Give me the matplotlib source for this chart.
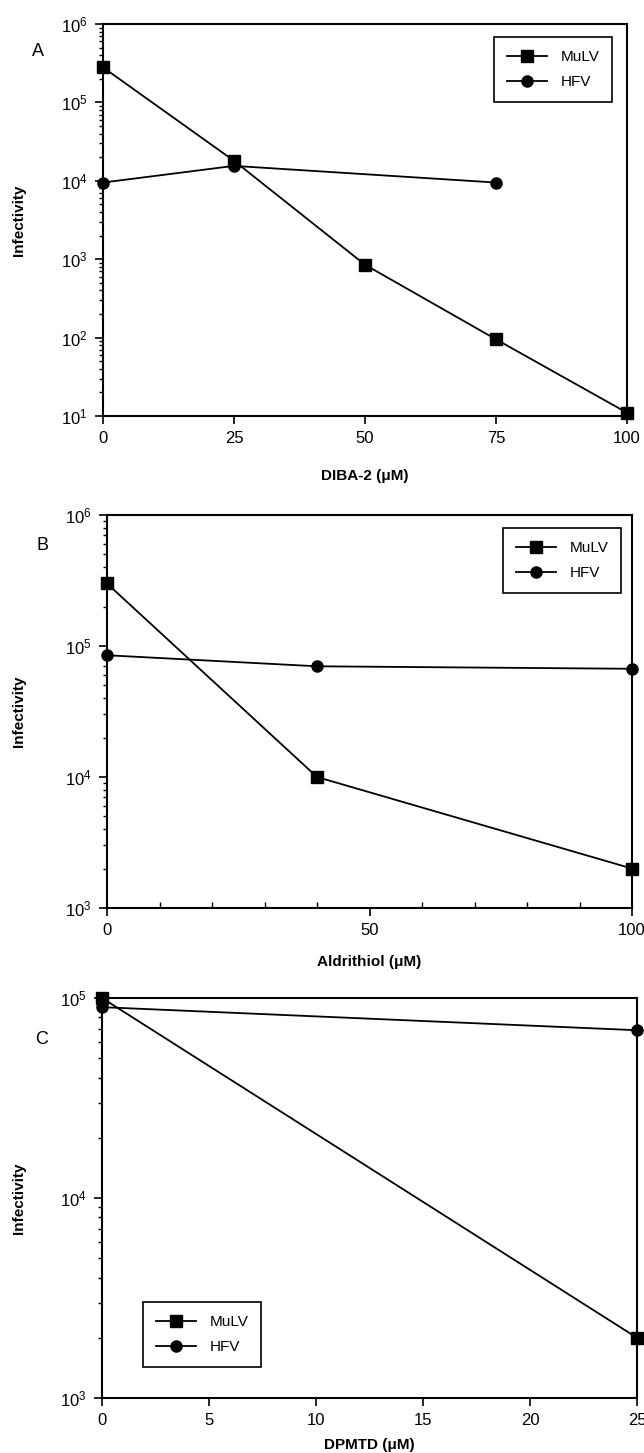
import matplotlib
matplotlib.use("Agg")
import matplotlib.pyplot as plt
from matplotlib.ticker import LogLocator, LogFormatterSciNotation, MultipleLocator, NullFormatter

plt.rcParams['font.family'] = ['Liberation Sans', 'DejaVu Sans']
plt.rcParams['mathtext.fontset'] = 'custom'
plt.rcParams['mathtext.rm'] = 'Liberation Sans'
plt.rcParams['mathtext.it'] = 'Liberation Sans'
plt.rcParams['mathtext.default'] = 'regular'

# ---- data ----
a_x_mulv = [0, 25, 50, 75, 100]
a_mulv = [2.8e5, 1.8e4, 850, 95, 11]
a_x_hfv = [0, 25, 75]
a_hfv = [9.5e3, 1.55e4, 9.5e3]
a_xticks = [0, 25, 50, 75, 100]

b_x = [0, 40, 100]
b_mulv = [3.0e5, 1.0e4, 2.0e3]
b_hfv = [8.5e4, 7.0e4, 6.7e4]
b_xticks = [0, 50, 100]

c_x = [0, 25]
c_mulv = [1.0e5, 2.0e3]
c_hfv = [9.0e4, 6.9e4]
c_xticks = [0, 5, 10, 15, 20, 25]

W, H = 644, 1453
fig = plt.figure(figsize=(W / 100, H / 100), dpi=100)


def make_ax(left, right, top, bottom):
    return fig.add_axes([left / W, 1 - bottom / H, (right - left) / W, (bottom - top) / H])


def style(ax, box, ylim, xlim, xticks, xlabel, xlabel_y, letter, letter_xy, legend_xy,
          minor_x=None):
    left, right, top, bottom = box
    ax.set_yscale('log')
    ax.set_ylim(*ylim)
    ax.set_xlim(*xlim)
    ax.set_xticks(xticks)
    ax.set_xticklabels([str(t) for t in xticks])
    if minor_x is not None:
        ax.xaxis.set_minor_locator(MultipleLocator(minor_x))
        ax.tick_params(axis='x', which='minor', direction='in', length=4, width=1)
    ax.yaxis.set_major_locator(LogLocator(base=10, numticks=10))
    ax.yaxis.set_major_formatter(LogFormatterSciNotation())
    ax.yaxis.set_minor_locator(LogLocator(base=10, subs=range(2, 10), numticks=20))
    ax.yaxis.set_minor_formatter(NullFormatter())
    ax.tick_params(axis='both', which='major', direction='out', length=6, width=1.2,
                   labelsize=12, pad=5)
    ax.tick_params(axis='y', which='minor', direction='out', length=3, width=1)
    for s in ax.spines.values():
        s.set_linewidth(1.5)
    ax.set_xlabel(xlabel, fontsize=11, fontweight='bold', va='center')
    ax.xaxis.set_label_coords(0.5, (bottom - xlabel_y) / (bottom - top))
    ax.set_ylabel('Infectivity', fontsize=11, fontweight='bold', va='center')
    ax.yaxis.set_label_coords((19 - left) / (right - left), 0.5)
    fig.text(letter_xy[0] / W, 1 - letter_xy[1] / H, letter, fontsize=13,
             ha='center', va='center')
    leg = ax.legend(loc='upper left', bbox_to_anchor=(legend_xy[0] / W, 1 - legend_xy[1] / H),
                    bbox_transform=fig.transFigure, borderaxespad=0, fancybox=False,
                    edgecolor='black', framealpha=1, fontsize=11, handlelength=2.6,
                    borderpad=0.85, labelspacing=0.75, handletextpad=0.9)
    leg.get_frame().set_linewidth(1.2)


kw_sq = dict(color='black', marker='s', ms=8, lw=1.3, clip_on=False, zorder=5)
kw_ci = dict(color='black', marker='o', ms=8, lw=1.3, clip_on=False, zorder=5)

# Panel A
boxA = (103, 627, 24, 416)
axA = make_ax(*boxA)
axA.plot(a_x_mulv, a_mulv, label='MuLV', **kw_sq)
axA.plot(a_x_hfv, a_hfv, label='HFV', **kw_ci)
style(axA, boxA, (1e1, 1e6), (0, 100), a_xticks, 'DIBA-2 (\u03bcM)', 476, 'A', (38, 52),
      (494, 37))

# Panel B
boxB = (107, 632, 515, 908)
axB = make_ax(*boxB)
axB.plot(b_x, b_mulv, label='MuLV', **kw_sq)
axB.plot(b_x, b_hfv, label='HFV', **kw_ci)
style(axB, boxB, (1e3, 1e6), (0, 100), b_xticks, 'Aldrithiol (\u03bcM)', 962, 'B', (42, 545),
      (503, 528), minor_x=10)

# Panel C
boxC = (102, 637, 998, 1398)
axC = make_ax(*boxC)
axC.plot(c_x, c_mulv, label='MuLV', **kw_sq)
axC.plot(c_x, c_hfv, label='HFV', **kw_ci)
style(axC, boxC, (1e3, 1e5), (0, 25), c_xticks, 'DPMTD (\u03bcM)', 1445, 'C', (42, 1040),
      (143, 1302))

fig.savefig('out.png', dpi=100)
